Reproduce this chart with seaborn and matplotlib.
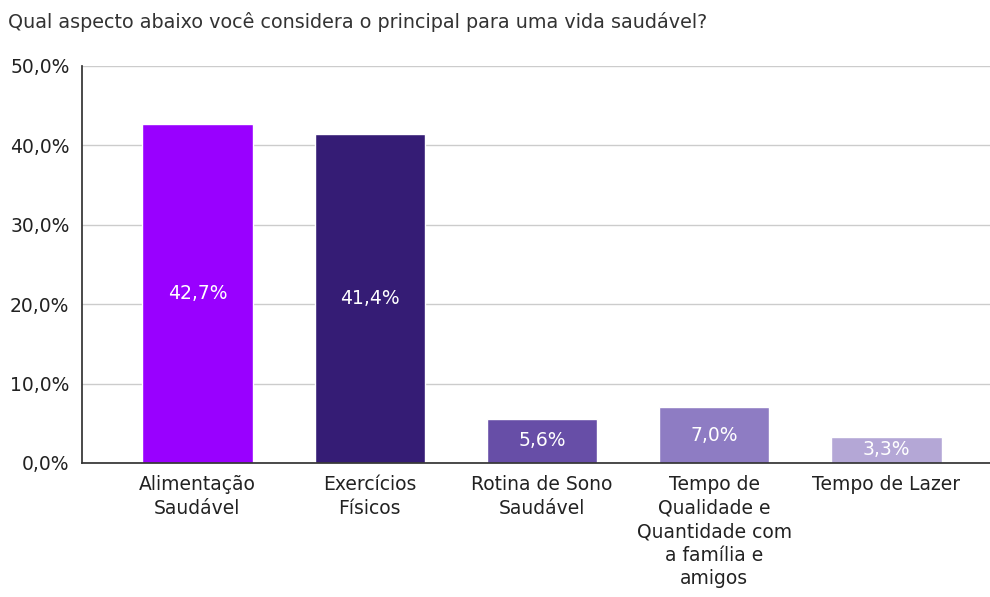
import matplotlib
matplotlib.use("Agg")
import matplotlib.pyplot as plt
import seaborn as sns
import pandas as pd

sns.set_theme(style="white")
plt.rcParams['font.family'] = ['DejaVu Sans']

categories = ["Alimentação\nSaudável", "Exercícios\nFísicos", "Rotina de Sono\nSaudável",
              "Tempo de\nQualidade e\nQuantidade com\na família e\namigos", "Tempo de Lazer"]
values = [42.7, 41.4, 5.6, 7.0, 3.3]
colors = ["#9900ff", "#351c75", "#674ea7", "#8e7cc3", "#b4a7d6"]
yticks = [0, 10, 20, 30, 40, 50]

df = pd.DataFrame({"cat": categories, "val": values})

fig = plt.figure(figsize=(9.9, 5.97), dpi=100)
ax = fig.add_axes([0.0828, 0.2245, 0.917, 0.665])
sns.barplot(data=df, x="cat", y="val", hue="cat", palette=colors, legend=False,
            width=0.64, saturation=1, ax=ax)

for p, v in zip(ax.patches, values):
    ax.text(p.get_x() + p.get_width() / 2, v / 2, f"{v:.1f}%".replace(".", ","),
            ha="center", va="center", color="white", fontsize=13.5)

ax.set_ylim(0, 50)
ax.set_xlim(-0.67, 4.6)
ax.set_yticks(yticks)
ax.set_yticklabels([f"{t:.1f}%".replace(".", ",") for t in yticks], fontsize=13.5, color="#222222")
ax.tick_params(axis="x", labelsize=13.5, colors="#222222", length=0, pad=9)
ax.tick_params(axis="y", length=0, pad=9)
for lbl in ax.get_xticklabels():
    lbl.set_linespacing(1.3)
ax.yaxis.grid(True, color="#cccccc", linewidth=1)
ax.set_axisbelow(True)
for s in ["top", "right"]:
    ax.spines[s].set_visible(False)
ax.spines["left"].set_color("#333333")
ax.spines["bottom"].set_color("#333333")
ax.set_xlabel("")
ax.set_ylabel("")

fig.text(0.008, 0.963, "Qual aspecto abaixo você considera o principal para uma vida saudável?",
         fontsize=13.8, color="#333333", ha="left", va="center")

fig.savefig("out.png", dpi=100)
